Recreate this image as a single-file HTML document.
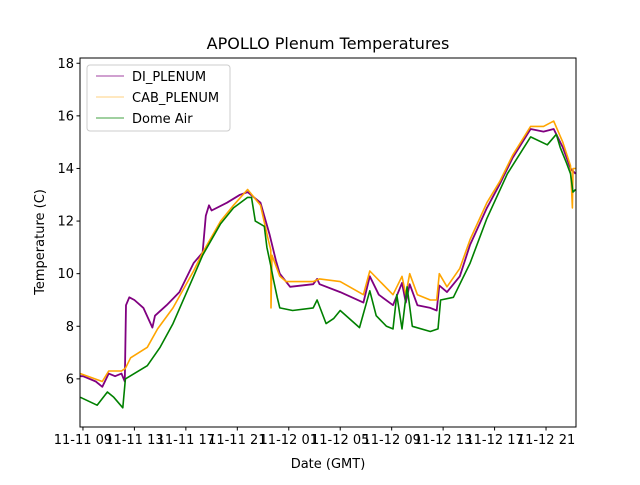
<!DOCTYPE html>
<html><head><meta charset="utf-8"><style>
body{margin:0;background:#fff;}
svg text{font-family:"DejaVu Sans","Liberation Sans",sans-serif;fill:#000;}
</style></head><body>
<svg id="chart" width="640" height="480" viewBox="0 0 640 480">
<rect width="640" height="480" fill="#fff"/>
<text x="328" y="49" font-size="16" text-anchor="middle">APOLLO Plenum Temperatures</text>
<g id="plot"></g>
<g id="axes"></g>
<text x="328" y="468" font-size="13" text-anchor="middle">Date (GMT)</text>
<text transform="translate(44,242) rotate(-90)" font-size="13" text-anchor="middle">Temperature (C)</text>
<g>
<rect x="87" y="65" width="143" height="66" rx="3" fill="#fff" fill-opacity="0.8" stroke="#ccc"/>
<line x1="96" y1="76" x2="124" y2="76" stroke="purple" stroke-width="0.8"/>
<text x="132" y="81" font-size="13">DI_PLENUM</text>
<line x1="96" y1="97" x2="124" y2="97" stroke="orange" stroke-width="0.5"/>
<text x="132" y="102" font-size="13">CAB_PLENUM</text>
<line x1="96" y1="118" x2="124" y2="118" stroke="green" stroke-width="0.8"/>
<text x="132" y="123" font-size="13">Dome Air</text>
</g>
</svg>
<script>
// hours after 11-11 09:00 GMT
const diHours = [-0.2,0,1,1.5,2,2.5,3,3.25,3.35,3.6,4,4.7,5.4,5.6,6.5,7.5,8.6,9.3,9.55,9.8,10,11.2,12.2,12.8,13.8,14.5,15,15.3,16.1,17.9,18.2,18.4,20,21.8,22.3,23,24.1,24.8,25.1,25.4,26,27,27.5,27.7,28.3,29.3,30.1,31.4,32.4,33.4,34.8,35.8,36.6,37.3,37.9,38.3];
const diValues = [6.1,6.1,5.9,5.7,6.2,6.1,6.2,5.9,8.8,9.1,9.0,8.7,7.95,8.4,8.8,9.3,10.4,10.8,12.2,12.6,12.4,12.7,13.0,13.1,12.7,11.5,10.5,10.0,9.5,9.6,9.8,9.6,9.3,8.9,9.9,9.2,8.8,9.65,8.9,9.6,8.8,8.7,8.6,9.55,9.3,9.9,11.1,12.5,13.4,14.4,15.5,15.4,15.5,14.8,14.0,13.8];
const cabHours = [-0.2,1.5,2,3,3.3,3.7,5,5.8,7,8.6,9.3,10.7,11.7,12.8,13.8,14.4,14.6,14.62,14.7,15.3,15.8,17.9,18.4,20,21.8,22.3,24.1,24.8,25.1,25.4,26,27,27.5,27.7,28.3,29.3,30.1,31.4,32.4,33.4,34.8,35.8,36.6,37.3,37.9,38.05,38.1,38.3];
const cabValues = [6.2,5.9,6.3,6.3,6.4,6.8,7.2,7.9,8.7,10.1,10.8,12.0,12.6,13.2,12.6,11.3,10.9,8.7,10.7,9.9,9.7,9.7,9.8,9.7,9.2,10.1,9.2,9.9,9.2,10.0,9.2,9.0,9.0,10.0,9.5,10.2,11.3,12.7,13.5,14.5,15.6,15.6,15.8,15.0,14.1,12.5,14.0,14.0];
const domeHours = [-0.2,1.1,1.9,2.4,3.1,3.3,5,6,7,8.6,9.3,10.7,11.7,12.8,13.1,13.4,14.1,14.3,14.6,14.8,15.1,15.3,16.3,17.9,18.2,18.9,19.5,20,21.5,22.3,22.8,23.6,24.1,24.4,24.8,25.2,25.6,27,27.6,27.8,28.8,30.1,31.4,33,34.8,36.1,36.8,37.1,37.6,37.9,38.1,38.3];
const domeValues = [5.3,5.0,5.5,5.3,4.9,6.0,6.5,7.2,8.1,9.9,10.7,11.9,12.5,12.9,12.9,12.0,11.8,11.0,10.3,9.8,9.1,8.7,8.6,8.7,9.0,8.1,8.3,8.6,7.95,9.35,8.4,8.0,7.9,9.2,7.9,9.5,8.0,7.8,7.9,9.0,9.1,10.4,12.1,13.8,15.2,14.9,15.3,14.8,14.2,13.8,13.1,13.2];
const yTicks = [6,8,10,12,14,16,18];
const xTickHours = [0,4,8,12,16,20,24,28,32,36];
const xTickLabels = ["11-11 09","11-11 13","11-11 17","11-11 21","11-12 01","11-12 05","11-12 09","11-12 13","11-12 17","11-12 21"];

const L=80,R=576,T=58,B=427;
const xMin=-0.23,xMax=38.33,yMin=4.17,yMax=18.2;
const xs=h=>L+(h-xMin)/(xMax-xMin)*(R-L);
const ys=v=>B-(v-yMin)/(yMax-yMin)*(B-T);
const NS="http://www.w3.org/2000/svg";
const plot=document.getElementById('plot'), axes=document.getElementById('axes');
function mk(tag,attrs,parent){const e=document.createElementNS(NS,tag);for(const k in attrs)e.setAttribute(k,attrs[k]);parent.appendChild(e);return e;}
function series(hs,vs,color,name,w){
  const d=hs.map((h,i)=>(i?'L':'M')+xs(h).toFixed(1)+','+ys(vs[i]).toFixed(1)).join('');
  const p=mk('path',{d:d,fill:'none',stroke:color,'stroke-width':w,'stroke-linejoin':'round'},plot);
  
  
}
series(diHours,diValues,'purple','di-plenum-line',1.8);
series(cabHours,cabValues,'orange','cab-plenum-line',1.6);
series(domeHours,domeValues,'green','dome-air-line',1.6);
const frame=mk('rect',{x:L,y:T,width:R-L,height:B-T,fill:'none',stroke:'#000','stroke-width':1},axes);


yTicks.forEach(v=>{
  const y=ys(v);
  const t=mk('line',{x1:L-3.5,x2:L,y1:y,y2:y,stroke:'#000'},axes);
  
  
  const tx=mk('text',{x:L-6,y:y+4.5,'font-size':13,'text-anchor':'end'},axes);
  tx.textContent=v;
  
  
});
xTickHours.forEach((h,i)=>{
  const x=xs(h);
  const t=mk('line',{x1:x,x2:x,y1:B,y2:B+3.5,stroke:'#000'},axes);
  
  
  const tx=mk('text',{x:x,y:B+17,'font-size':13,'text-anchor':'middle'},axes);
  tx.textContent=xTickLabels[i];
  
  
});
</script>
</body></html>
